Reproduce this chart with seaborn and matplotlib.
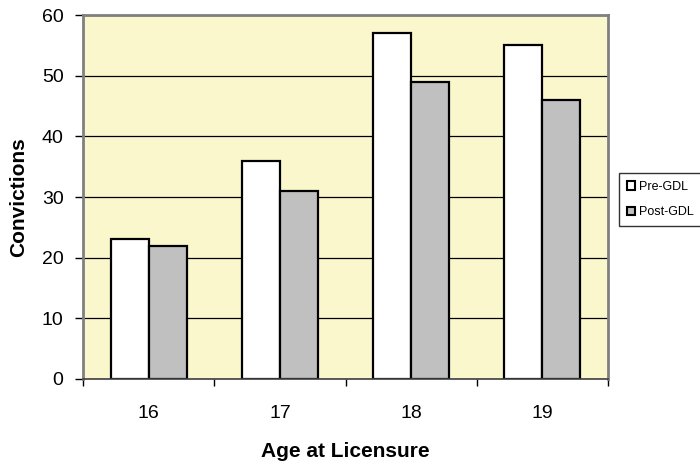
import pandas as pd
import seaborn as sns
import matplotlib.pyplot as plt

# values
ages = ['16', '17', '18', '19']
pre_gdl = [23, 36, 57, 55]
post_gdl = [22, 31, 49, 46]
series = ['Pre-GDL', 'Post-GDL']

df = pd.DataFrame({
    'Age': ages * 2,
    'Convictions': pre_gdl + post_gdl,
    'Period': [series[0]] * len(ages) + [series[1]] * len(ages),
})

sns.set_style('white')
plt.rcParams['font.family'] = ['Liberation Sans', 'DejaVu Sans']
plt.rcParams['text.color'] = 'black'
plt.rcParams['axes.labelcolor'] = 'black'
plt.rcParams['xtick.color'] = 'black'
plt.rcParams['ytick.color'] = 'black'

fig = plt.figure(figsize=(7, 4.66), dpi=100)
ax = fig.add_axes([0.1186, 0.1867, 0.75, 0.7811])
ax.set_facecolor('#FBF7CD')

sns.barplot(data=df, x='Age', y='Convictions', hue='Period', hue_order=series,
            palette=['white', '#C0C0C0'], edgecolor='black', linewidth=1.6,
            width=0.58, gap=0, saturation=1, ax=ax, legend=False)

# grid
ax.set_ylim(0, 60)
ax.set_yticks(range(0, 61, 10))
ax.yaxis.grid(True, color='black', linewidth=0.9)
ax.set_axisbelow(True)

# ticks at category boundaries, labels in the middle
ax.set_xlim(-0.5, 3.5)
ax.set_xticks([-0.5, 0.5, 1.5, 2.5, 3.5])
ax.set_xticklabels([])
ax.set_xticks(range(len(ages)), minor=True)
ax.set_xticklabels(ages, minor=True)
ax.tick_params(axis='x', which='major', direction='out', length=5, width=1, bottom=True)
ax.tick_params(axis='x', which='minor', length=0, labelsize=14, pad=19)
ax.tick_params(axis='y', direction='out', length=6, width=1, left=True, labelsize=14, pad=8)

for side in ['left', 'top', 'right']:
    ax.spines[side].set_color('#808080')
    ax.spines[side].set_linewidth(2)
ax.spines['bottom'].set_color('#404040')
ax.spines['bottom'].set_linewidth(1.2)

ax.set_xlabel('Age at Licensure', fontsize=15, fontweight='bold', labelpad=14)
ax.set_ylabel('Convictions', fontsize=15, fontweight='bold', labelpad=10)

# legend
handles = [plt.Rectangle((0, 0), 1, 1, facecolor=c, edgecolor='black', linewidth=1.5)
           for c in ['white', '#C0C0C0']]
fig.legend(handles, series, loc='upper left', bbox_to_anchor=(619 / 700, 1 - 173 / 466),
           frameon=True, fancybox=False, edgecolor='black', fontsize=9,
           handlelength=0.7, handleheight=0.7, handletextpad=0.3,
           borderpad=0.6, labelspacing=1.1, borderaxespad=0)

fig.savefig('out.png', dpi=100, facecolor='white')
